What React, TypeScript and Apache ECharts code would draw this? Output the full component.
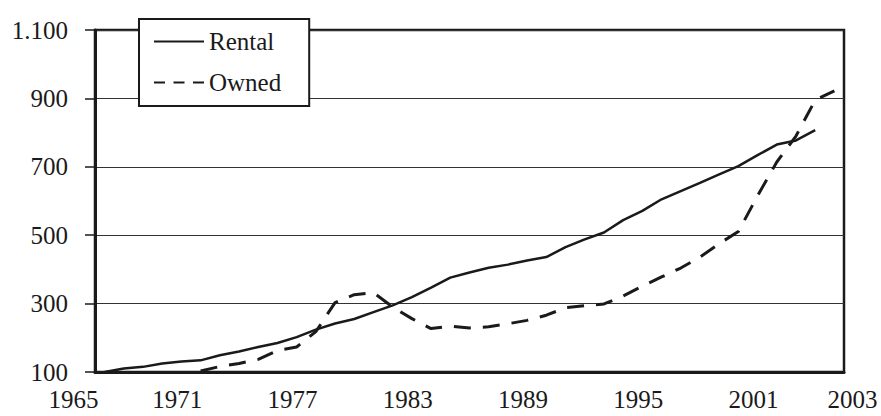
import React, { useEffect, useRef } from "react";
import * as echarts from "echarts";

const years = [
  "1965", "1966", "1967", "1968", "1969", "1970", "1971", "1972", "1973", "1974",
  "1975", "1976", "1977", "1978", "1979", "1980", "1981", "1982", "1983", "1984",
  "1985", "1986", "1987", "1988", "1989", "1990", "1991", "1992", "1993", "1994",
  "1995", "1996", "1997", "1998", "1999", "2000", "2001", "2002", "2003",
];

const rental = [
  100, 110, 115, 125, 131, 134, 149, 160, 173, 185,
  202, 224, 242, 255, 275, 295, 319, 347, 376, 391,
  405, 414, 426, 436, 465, 488, 508, 544, 571, 605,
  629, 653, 678, 702, 734, 765, 777, 807, null,
];

const owned = [
  null, null, null, null, null, 103, 116, 125, 137, 163,
  173, 218, 303, 326, 332, 290, 256, 227, 234, 229,
  232, 241, 251, 266, 288, 294, 299, 322, 351, 378,
  404, 436, 475, 511, 615, 714, 790, 895, 922,
];

const xTickLabels = ["1965", "1971", "1977", "1983", "1989", "1995", "2001", "2003"];
const yMin = 100;
const yMax = 1100;
const yStep = 200;

const FONT = '"Liberation Serif", "Times New Roman", serif';
const INK = "#1a1a1a";

const SOLID_ICON = "path://M0,0h50v2h-50z";
const DASH_ICON = "path://M0,0h11v2h-11z M19.5,0h11v2h-11z M39,0h11v2h-11z";

export default function App() {
  const ref = useRef<HTMLDivElement>(null);

  useEffect(() => {
    if (!ref.current) return;
    const chart = echarts.init(ref.current, null, { renderer: "svg" });
    const txt = { fontSize: 25, fontFamily: FONT, color: INK };
    chart.setOption({
      animation: false,
      backgroundColor: "#fff",
      grid: {
        left: 95,
        right: 37,
        top: 30,
        bottom: 44,
        show: true,
        borderColor: INK,
        borderWidth: 2.5,
      },
      legend: {
        orient: "vertical",
        left: 139,
        top: 19,
        backgroundColor: "#fff",
        borderColor: INK,
        borderWidth: 2,
        padding: [10, 28, 11, 15],
        itemWidth: 50,
        itemHeight: 2,
        itemGap: 16,
        itemStyle: { color: INK, borderWidth: 0 },
        textStyle: { ...txt },
        data: [
          { name: "Rental", icon: SOLID_ICON },
          { name: "Owned", icon: DASH_ICON },
        ],
      },
      xAxis: {
        type: "category",
        data: years,
        boundaryGap: true,
        axisLine: { lineStyle: { color: INK, width: 3 } },
        axisTick: { interval: 0, length: 8, lineStyle: { color: INK, width: 1.5 } },
        axisLabel: {
          interval: (_i: number, v: string) => xTickLabels.includes(v),
          margin: 15,
          ...txt,
          formatter: (v: string) =>
            v === xTickLabels[0]
              ? `{f|${v}}`
              : v === xTickLabels[xTickLabels.length - 1]
              ? `{b|${v}}`
              : `{a|${v}}`,
          rich: {
            a: { ...txt, padding: [0, 85, 0, 0] },
            f: { ...txt, padding: [0, 62, 0, 0] },
            b: { ...txt, padding: [0, 0, 0, 36] },
          },
        },
        splitLine: { show: false },
      },
      yAxis: {
        type: "value",
        min: yMin,
        max: yMax,
        interval: yStep,
        axisLine: { show: true, lineStyle: { color: INK, width: 3 } },
        axisTick: { show: true, length: 10, lineStyle: { color: INK, width: 1.5 } },
        axisLabel: {
          margin: 27,
          ...txt,
          formatter: (v: number) => String(v).replace(/\B(?=(\d{3})+(?!\d))/g, "."),
        },
        splitLine: { show: true, lineStyle: { color: "#333", width: 1 } },
      },
      series: [
        {
          name: "Rental",
          type: "line",
          data: rental,
          symbol: "none",
          connectNulls: false,
          itemStyle: { color: INK },
          lineStyle: { color: INK, width: 2.5 },
          z: 3,
        },
        {
          name: "Owned",
          type: "line",
          data: owned,
          symbol: "none",
          connectNulls: false,
          itemStyle: { color: INK },
          lineStyle: { color: INK, width: 3, type: [17, 12] },
          z: 3,
        },
      ],
    });
    return () => chart.dispose();
  }, []);

  return (
    <div
      ref={ref}
      style={{ position: "fixed", left: 0, top: 0, width: 881, height: 416 }}
    />
  );
}
